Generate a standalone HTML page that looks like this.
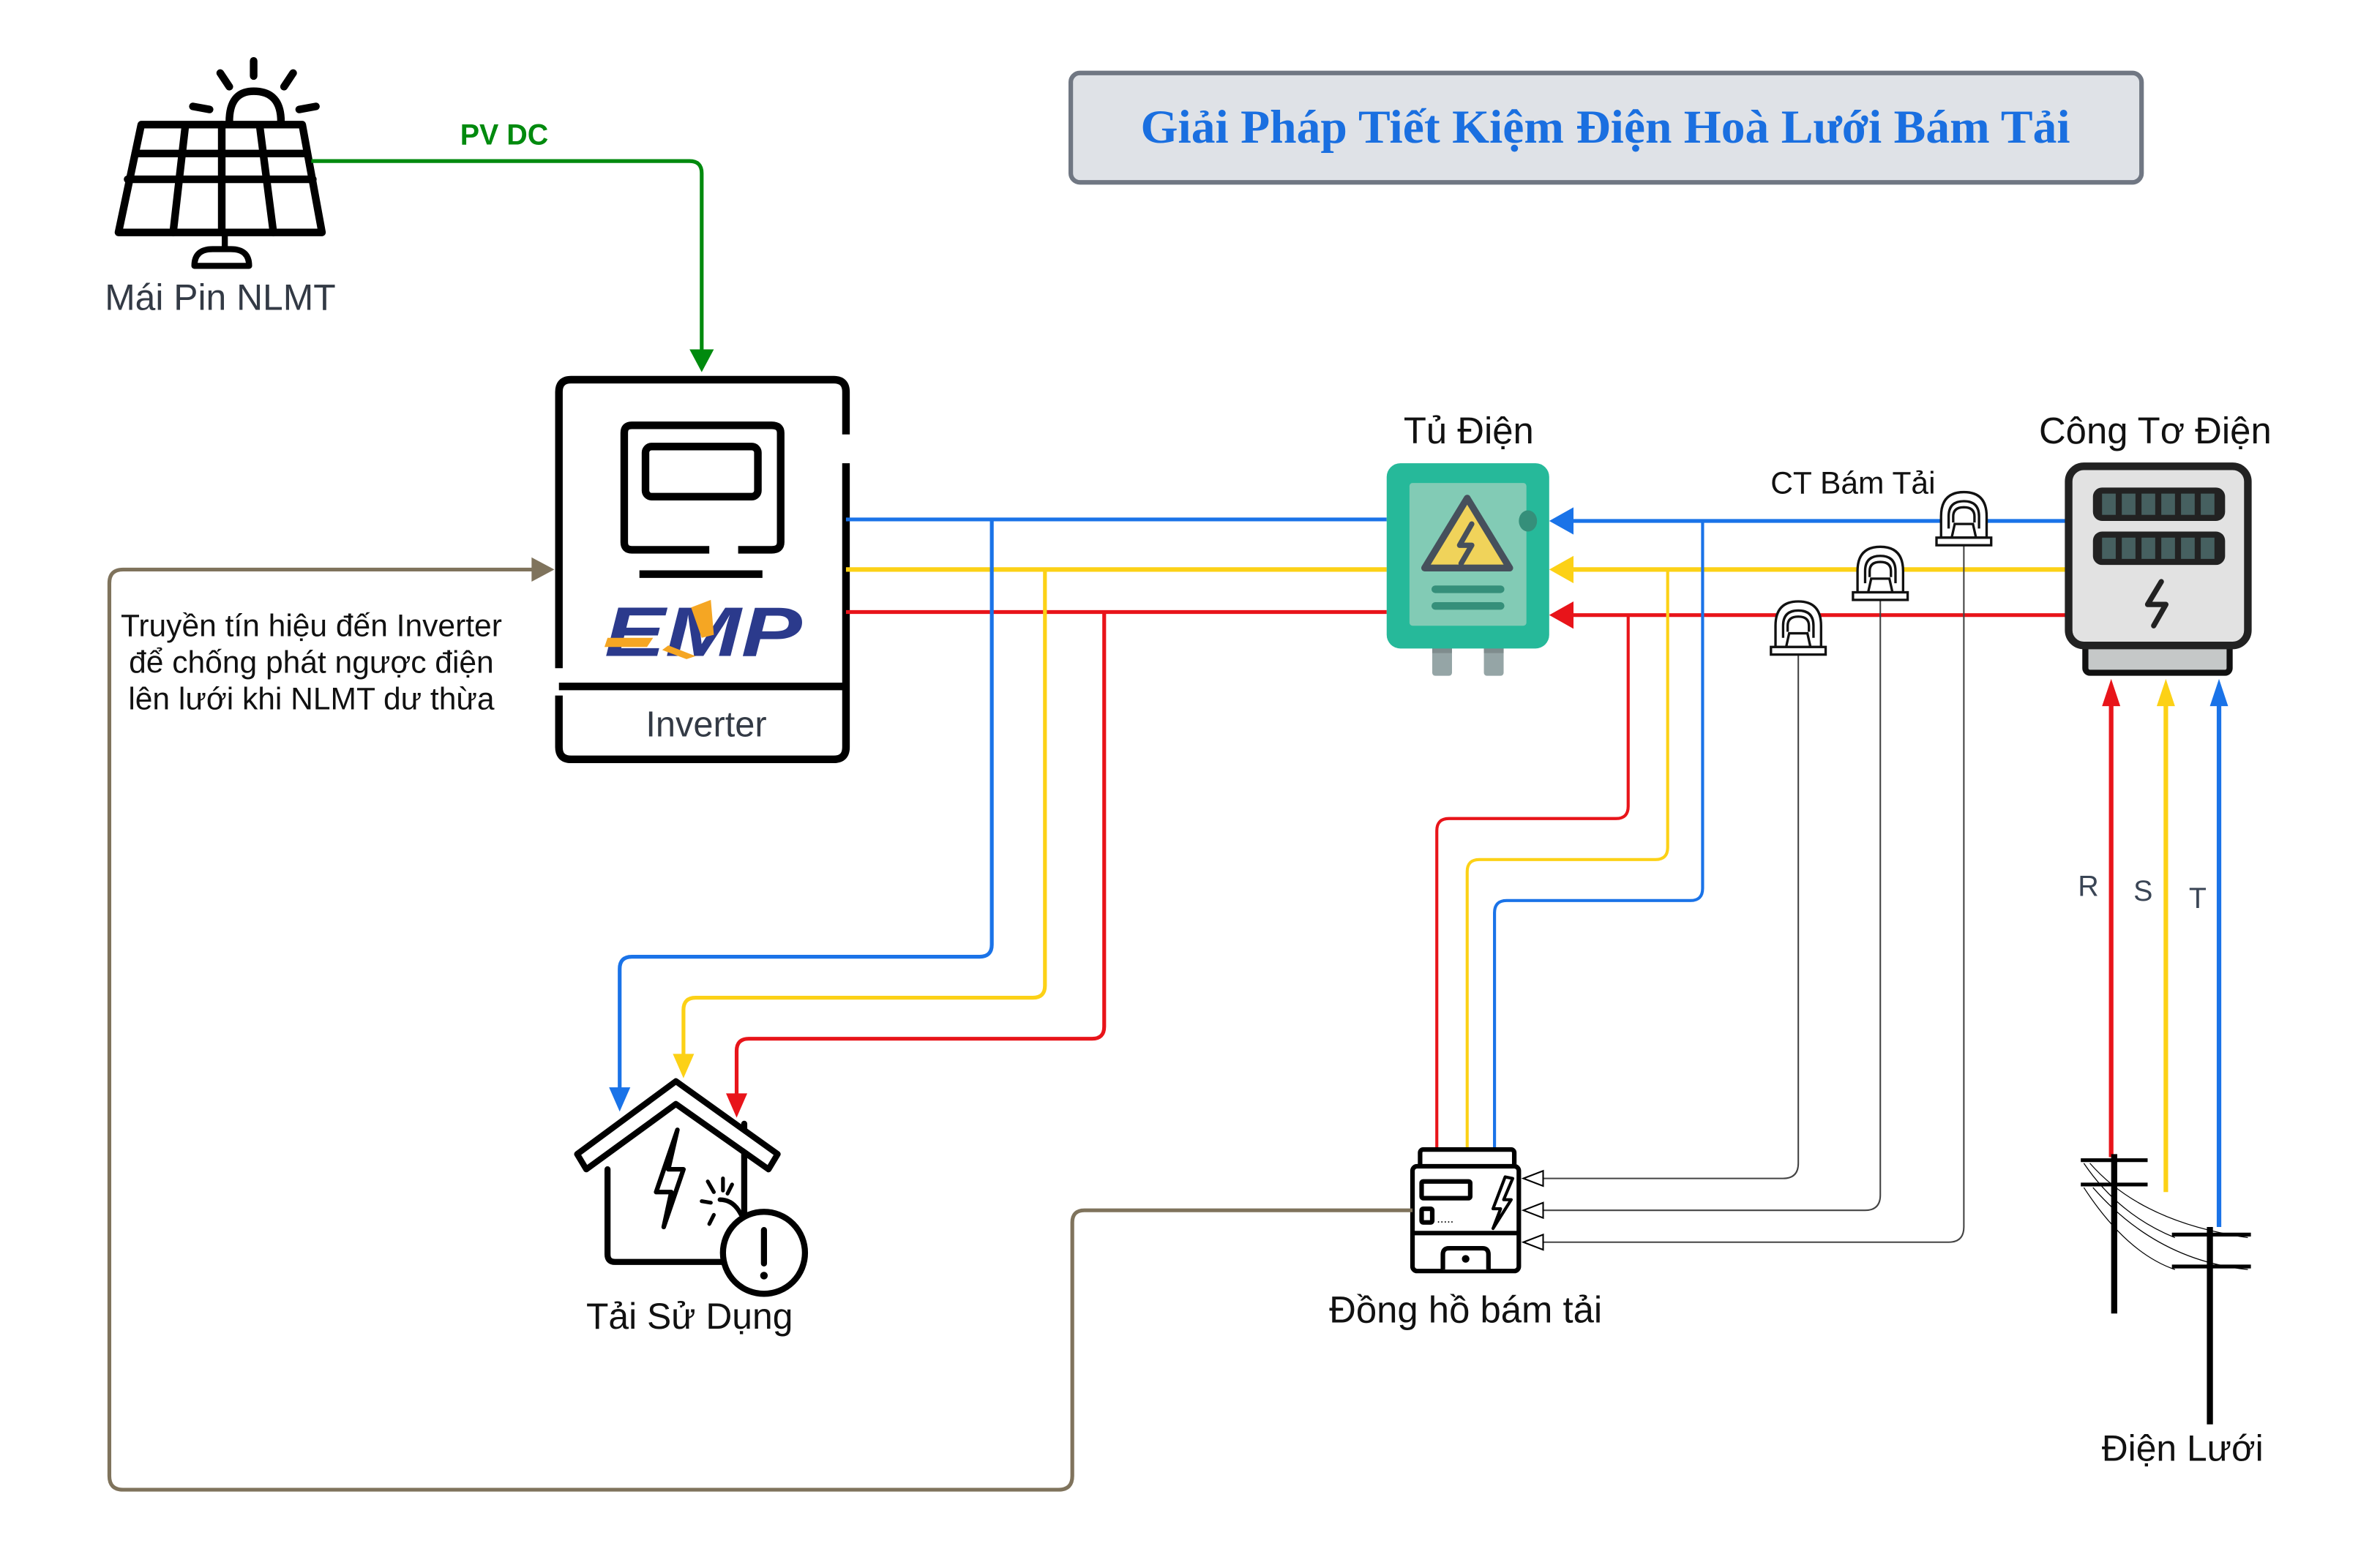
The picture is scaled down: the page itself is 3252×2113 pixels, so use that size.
<!DOCTYPE html>
<html><head><meta charset="utf-8"><style>
html,body{margin:0;padding:0;background:#fff;}
svg{display:block;}
text{font-family:"Liberation Sans",sans-serif;}
</style></head><body>
<svg width="3252" height="2113" viewBox="0 0 1567 1018" xmlns="http://www.w3.org/2000/svg">
<rect x="0" y="0" width="1567" height="1018" fill="#fff"/>

<!-- Title -->
<rect x="705" y="48" width="705" height="72" rx="6" fill="#dfe2e7" stroke="#707783" stroke-width="3"/>
<text x="1057" y="94" text-anchor="middle" style="font-family:'Liberation Serif',serif" font-weight="bold" font-size="31" fill="#1a6fe0" textLength="612" lengthAdjust="spacingAndGlyphs">Giải Pháp Tiết Kiệm Điện Hoà Lưới Bám Tải</text>

<!-- Solar panel -->
<g stroke="#000" stroke-width="5" fill="none" stroke-linecap="round" stroke-linejoin="round">
<path d="M93,82 L199,82 L212,153 L78,153 Z"/>
<path d="M84,118 L206,118 M89,101 L201,101 M146,82 L146,153 M122,83 L114,153 M171,83 L180,153"/>
<path d="M148,154 L148,164 M128,175 Q128,164 140,164 L152,164 Q164,164 164,175 Z" stroke-width="4"/>
<path d="M151,80 Q151,60 167,60 Q185,60 185,80"/>
<path d="M167,40 L167,50 M145,48 L151,57 M193,48 L187,57 M127,70 L138,72 M208,70 L197,72"/>
</g>
<text x="145" y="204" text-anchor="middle" font-size="24" fill="#333a45">Mái Pin NLMT</text>

<!-- PV DC -->
<path d="M205,106 L454,106 Q462,106 462,114 L462,232" stroke="#008a0e" stroke-width="2.5" fill="none"/>
<path d="M454,230 L470,230 L462,245 Z" fill="#008a0e"/>
<text x="332" y="95" text-anchor="middle" font-size="19" font-weight="bold" fill="#008a0e">PV DC</text>

<!-- Inverter -->
<g stroke="#000" stroke-width="5" fill="none">
<path d="M557,286 L557,258 Q557,250 549,250 L376,250 Q368,250 368,258 L368,440"/>
<path d="M557,305 L557,492 Q557,500 549,500 L376,500 Q368,500 368,492 L368,458"/>
<line x1="368" y1="452" x2="557" y2="452"/>
<path d="M467,362 L416,362 Q411,362 411,357 L411,285 Q411,280 416,280 L508,280 Q514,280 514,285 L514,357 Q514,362 508,362 L486,362"/>
<rect x="425" y="294" width="74" height="33" rx="4"/>
<line x1="421" y1="378" x2="502" y2="378"/>
</g>
<text x="465" y="485" text-anchor="middle" font-size="23.5" fill="#333a45">Inverter</text>
<!-- EMP logo -->
<g>
<text x="463" y="432" text-anchor="middle" font-size="46" font-weight="bold" font-style="italic" fill="#2b3a8c" textLength="130" lengthAdjust="spacingAndGlyphs">EMP</text>
<path d="M400,420 L430,420 L426,426 L398,426 Z" fill="#f5a623"/>
<path d="M455,400 L468,395 L470,418 L462,420 Z" fill="#f5a623"/>
<path d="M440,425 L458,432 L452,434 L436,428 Z" fill="#f5a623"/>
</g>

<!-- Bus lines inverter -> Tu Dien -->
<line x1="557" y1="342" x2="913" y2="342" stroke="#1a73e8" stroke-width="2.5"/>
<line x1="557" y1="375" x2="913" y2="375" stroke="#fcd116" stroke-width="3"/>
<line x1="557" y1="403" x2="913" y2="403" stroke="#e8141a" stroke-width="2.5"/>

<!-- Inverter -> house -->
<path d="M653,342 L653,622 Q653,630 645,630 L416,630 Q408,630 408,638 L408,718" stroke="#1a73e8" stroke-width="2.5" fill="none"/>
<path d="M401,716 L415,716 L408,732 Z" fill="#1a73e8"/>
<path d="M688,375 L688,649 Q688,657 680,657 L458,657 Q450,657 450,665 L450,696" stroke="#fcd116" stroke-width="2.5" fill="none"/>
<path d="M443,694 L457,694 L450,710 Z" fill="#fcd116"/>
<path d="M727,403 L727,676 Q727,684 719,684 L493,684 Q485,684 485,692 L485,722" stroke="#e8141a" stroke-width="2.5" fill="none"/>
<path d="M478,720 L492,720 L485,736 Z" fill="#e8141a"/>

<!-- Tu Dien -->
<text x="967" y="292" text-anchor="middle" font-size="24.5" fill="#111">Tủ Điện</text>
<rect x="943" y="424" width="13" height="21" rx="2" fill="#95a5a6"/>
<rect x="977" y="424" width="13" height="21" rx="2" fill="#95a5a6"/>
<rect x="943" y="424" width="13" height="6" fill="#7f8c8d"/>
<rect x="977" y="424" width="13" height="6" fill="#7f8c8d"/>
<rect x="913" y="305" width="107" height="122" rx="9" fill="#26b99a"/>
<rect x="928" y="318" width="77" height="94" rx="2" fill="#82cbb5"/>
<ellipse cx="1006" cy="343" rx="6" ry="7" fill="#358f7a"/>
<path d="M966,328 L994,374 L938,374 Z" fill="#f0d35a" stroke="#46505c" stroke-width="4.5" stroke-linejoin="round"/>
<path d="M969,345 L961,359 L969,359 L962,371" fill="none" stroke="#46505c" stroke-width="3.5" stroke-linecap="round" stroke-linejoin="round"/>
<line x1="945" y1="388" x2="988" y2="388" stroke="#358f7a" stroke-width="5" stroke-linecap="round"/>
<line x1="945" y1="399" x2="988" y2="399" stroke="#358f7a" stroke-width="5" stroke-linecap="round"/>

<!-- Meter -> Tu Dien -->
<line x1="1034" y1="343" x2="1362" y2="343" stroke="#1a73e8" stroke-width="2.5"/>
<path d="M1020,343 L1036,334 L1036,352 Z" fill="#1a73e8"/>
<line x1="1034" y1="375" x2="1362" y2="375" stroke="#fcd116" stroke-width="3"/>
<path d="M1020,375 L1036,366 L1036,384 Z" fill="#fcd116"/>
<line x1="1034" y1="405" x2="1362" y2="405" stroke="#e8141a" stroke-width="2.5"/>
<path d="M1020,405 L1036,396 L1036,414 Z" fill="#e8141a"/>

<!-- Tu Dien -> Dong ho -->
<path d="M1072,405 L1072,531 Q1072,539 1064,539 L954,539 Q946,539 946,547 L946,757" stroke="#e8141a" stroke-width="2" fill="none"/>
<path d="M1098,375 L1098,558 Q1098,566 1090,566 L974,566 Q966,566 966,574 L966,757" stroke="#fcd116" stroke-width="2" fill="none"/>
<path d="M1121,343 L1121,585 Q1121,593 1113,593 L992,593 Q984,593 984,601 L984,757" stroke="#1a73e8" stroke-width="2" fill="none"/>

<!-- CT lines -->
<g stroke="#444" stroke-width="1" fill="none">
<path d="M1184,430 L1184,766 Q1184,776 1174,776 L1016,776"/>
<path d="M1238,393 L1238,787 Q1238,797 1228,797 L1016,797"/>
<path d="M1293,358 L1293,808 Q1293,818 1283,818 L1016,818"/>
</g>
<g stroke="#000" stroke-width="1" fill="#fff">
<path d="M1003,776 L1016,771 L1016,781 Z"/>
<path d="M1003,797 L1016,792 L1016,802 Z"/>
<path d="M1003,818 L1016,813 L1016,823 Z"/>
</g>
<!-- CT icons -->
<g stroke="#111" stroke-width="1.6" fill="#fff">
<g transform="translate(1293,342)">
<path d="M-15,12 L-15,-2 Q-15,-18 0,-18 Q15,-18 15,-2 L15,12 Z"/>
<path d="M-10,6 L-10,-2 Q-10,-12 0,-12 Q10,-12 10,-2 L10,6" fill="none"/>
<path d="M-7,2 L-7,-2 Q-7,-8 0,-8 Q7,-8 7,-2 L7,2" fill="none"/>
<path d="M-6,3 L6,3 L8,12 L-8,12 Z"/>
<rect x="-18" y="12" width="36" height="5"/>
</g>
<g transform="translate(1238,378)">
<path d="M-15,12 L-15,-2 Q-15,-18 0,-18 Q15,-18 15,-2 L15,12 Z"/>
<path d="M-10,6 L-10,-2 Q-10,-12 0,-12 Q10,-12 10,-2 L10,6" fill="none"/>
<path d="M-7,2 L-7,-2 Q-7,-8 0,-8 Q7,-8 7,-2 L7,2" fill="none"/>
<path d="M-6,3 L6,3 L8,12 L-8,12 Z"/>
<rect x="-18" y="12" width="36" height="5"/>
</g>
<g transform="translate(1184,414)">
<path d="M-15,12 L-15,-2 Q-15,-18 0,-18 Q15,-18 15,-2 L15,12 Z"/>
<path d="M-10,6 L-10,-2 Q-10,-12 0,-12 Q10,-12 10,-2 L10,6" fill="none"/>
<path d="M-7,2 L-7,-2 Q-7,-8 0,-8 Q7,-8 7,-2 L7,2" fill="none"/>
<path d="M-6,3 L6,3 L8,12 L-8,12 Z"/>
<rect x="-18" y="12" width="36" height="5"/>
</g>
</g>
<text x="1220" y="325" text-anchor="middle" font-size="20.5" fill="#111">CT Bám Tải</text>

<!-- Cong To Dien -->
<text x="1419" y="292" text-anchor="middle" font-size="24.5" fill="#111">Công Tơ Điện</text>
<rect x="1373" y="422" width="95" height="21" rx="3" fill="#c5c8c8" stroke="#111" stroke-width="4"/>
<rect x="1362" y="307" width="118" height="118" rx="10" fill="#e2e2e2" stroke="#222" stroke-width="5"/>
<rect x="1378" y="321" width="87" height="22" rx="6" fill="#222"/>
<rect x="1378" y="350" width="87" height="22" rx="6" fill="#222"/>
<g fill="#466060">
<rect x="1384" y="325" width="9" height="14"/><rect x="1397" y="325" width="9" height="14"/><rect x="1410" y="325" width="9" height="14"/><rect x="1423" y="325" width="9" height="14"/><rect x="1436" y="325" width="9" height="14"/><rect x="1449" y="325" width="9" height="14"/>
<rect x="1384" y="354" width="9" height="14"/><rect x="1397" y="354" width="9" height="14"/><rect x="1410" y="354" width="9" height="14"/><rect x="1423" y="354" width="9" height="14"/><rect x="1436" y="354" width="9" height="14"/><rect x="1449" y="354" width="9" height="14"/>
</g>
<path d="M1423,383 L1414,398 L1426,398 L1418,412" fill="none" stroke="#222" stroke-width="3.5" stroke-linecap="round" stroke-linejoin="round"/>

<!-- RST -->
<line x1="1390" y1="762" x2="1390" y2="462" stroke="#e8141a" stroke-width="3"/>
<path d="M1390,447 L1384,465 L1396,465 Z" fill="#e8141a"/>
<line x1="1426" y1="785" x2="1426" y2="462" stroke="#fcd116" stroke-width="3"/>
<path d="M1426,447 L1420,465 L1432,465 Z" fill="#fcd116"/>
<line x1="1461" y1="808" x2="1461" y2="462" stroke="#1a73e8" stroke-width="3"/>
<path d="M1461,447 L1455,465 L1467,465 Z" fill="#1a73e8"/>
<text x="1375" y="590" text-anchor="middle" font-size="19" fill="#3a4555">R</text>
<text x="1411" y="593" text-anchor="middle" font-size="19" fill="#3a4555">S</text>
<text x="1447" y="598" text-anchor="middle" font-size="19" fill="#3a4555">T</text>
<!-- poles -->
<g stroke="#000" fill="none">
<line x1="1392" y1="760" x2="1392" y2="865" stroke-width="4"/>
<line x1="1370" y1="764" x2="1414" y2="764" stroke-width="2.5"/>
<line x1="1370" y1="780" x2="1414" y2="780" stroke-width="2.5"/>
<line x1="1455" y1="808" x2="1455" y2="938" stroke-width="4"/>
<line x1="1430" y1="813" x2="1482" y2="813" stroke-width="2.5"/>
<line x1="1430" y1="834" x2="1482" y2="834" stroke-width="2.5"/>
<path d="M1372,766 Q1395,800 1432,815" stroke-width="0.6"/>
<path d="M1376,766 Q1410,805 1480,815" stroke-width="0.6"/>
<path d="M1372,782 Q1400,825 1432,836" stroke-width="0.6"/>
<path d="M1378,782 Q1420,830 1480,836" stroke-width="0.6"/>
</g>
<text x="1437" y="962" text-anchor="middle" font-size="24" fill="#111">Điện Lưới</text>

<!-- Dong ho bam tai -->
<g stroke="#000" stroke-width="3" fill="#fff" stroke-linejoin="round">
<rect x="935" y="757" width="62" height="12" rx="2"/>
<rect x="930" y="768" width="70" height="69" rx="3"/>
<line x1="930" y1="812" x2="1000" y2="812"/>
<path d="M950,836 L950,826 Q950,822 954,822 L976,822 Q980,822 980,826 L980,836"/>
<rect x="936" y="778" width="32" height="11" rx="1"/>
<rect x="936" y="796" width="7" height="9" rx="1"/>
<path d="M991,775 L983,796 L988,796 L983,809 L995,790 L990,790 L996,776 Z" stroke-width="2"/>
</g>
<circle cx="965" cy="829" r="2.5" fill="#000"/>
<text x="946" y="805" font-size="8" fill="#000">.....</text>
<text x="965" y="871" text-anchor="middle" font-size="24.5" fill="#111">Đồng hồ bám tải</text>

<!-- House -->
<g stroke="#000" stroke-width="4" fill="#fff" stroke-linejoin="round" stroke-linecap="round">
<path d="M400,770 L400,826 Q400,831 405,831 L478,831"/>
<path d="M490,740 L490,800"/>
<path d="M380,760 L445,712 L512,760 L506,770 L445,727 L386,770 Z"/>
<path d="M446,744 L432,785 L442,785 L437,808 L450,770 L440,770 Z" stroke-width="3"/>
<path d="M466,778 L470,785 M476,776 L476,784 M482,780 L479,786 M462,791 L468,792 M470,800 L467,806" stroke-width="2.5"/>
<path d="M474,790 Q483,790 488,800" stroke-width="3" fill="none"/>
<circle cx="503" cy="825" r="27"/>
<line x1="503" y1="810" x2="503" y2="832" stroke-width="4"/>
</g>
<circle cx="503" cy="840" r="2.5" fill="#000"/>
<text x="454" y="875" text-anchor="middle" font-size="24" fill="#111">Tải Sử Dụng</text>

<!-- Brown signal line -->
<path d="M930,797 L714,797 Q706,797 706,805 L706,972 Q706,981 697,981 L81,981 Q72,981 72,972 L72,384 Q72,375 81,375 L352,375" stroke="#7f735c" stroke-width="2.5" fill="none"/>
<path d="M365,375 L350,367 L350,383 Z" fill="#7f735c"/>
<text x="205" y="419" text-anchor="middle" font-size="20.5" fill="#111">Truyền tín hiệu đến Inverter</text>
<text x="205" y="443" text-anchor="middle" font-size="20.5" fill="#111">để chống phát ngược điện</text>
<text x="205" y="467" text-anchor="middle" font-size="20.5" fill="#111">lên lưới khi NLMT dư thừa</text>
</svg>
</body></html>
